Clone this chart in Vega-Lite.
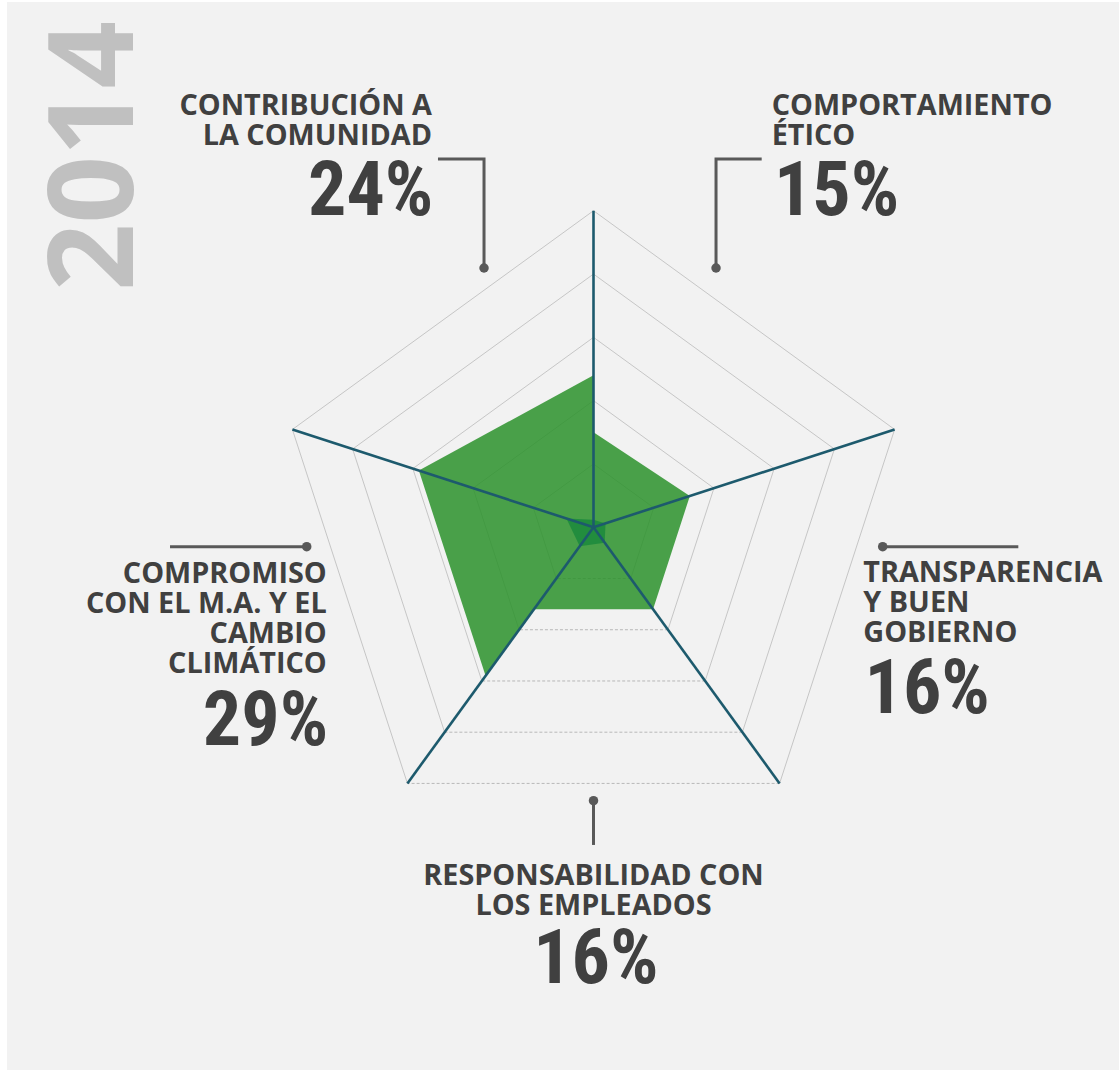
{
  "$schema": "https://vega.github.io/schema/vega-lite/v6.json",
  "width": 1119,
  "height": 1071,
  "autosize": {"type": "fit", "contains": "padding"},
  "padding": 0,
  "background": "#ffffff",
  "config": {"view": {"stroke": null}},
  "datasets": {
    "panel": [{"x": -92.62, "x2": 82.99, "y": 82.96, "y2": -85.71}],
    "grid": [
      {"L": 10, "e": 0}, {"L": 10, "e": 1}, {"L": 10, "e": 2}, {"L": 10, "e": 3}, {"L": 10, "e": 4},
      {"L": 20, "e": 0}, {"L": 20, "e": 1}, {"L": 20, "e": 2}, {"L": 20, "e": 3}, {"L": 20, "e": 4},
      {"L": 30, "e": 0}, {"L": 30, "e": 1}, {"L": 30, "e": 2}, {"L": 30, "e": 3}, {"L": 30, "e": 4},
      {"L": 40, "e": 0}, {"L": 40, "e": 1}, {"L": 40, "e": 2}, {"L": 40, "e": 3}, {"L": 40, "e": 4},
      {"L": 50, "e": 0}, {"L": 50, "e": 1}, {"L": 50, "e": 2}, {"L": 50, "e": 3}, {"L": 50, "e": 4}
    ],
    "radar": [
      {"o": 0, "axis": 0, "v": 15},
      {"o": 1, "axis": 1, "v": 16},
      {"o": 2, "axis": 2, "v": 16},
      {"o": 3, "axis": 3, "v": 16},
      {"o": 4, "axis": 3, "v": 29},
      {"o": 5, "axis": 4, "v": 29},
      {"o": 6, "axis": 0, "v": 24}
    ],
    "inner": [
      {"o": 0, "axis": 0, "v": 1.2},
      {"o": 1, "axis": 1, "v": 2},
      {"o": 2, "axis": 2, "v": 3},
      {"o": 3, "axis": 3, "v": 3.7},
      {"o": 4, "axis": 4, "v": 4.5}
    ],
    "spokes": [
      {"axis": 0, "v": 50}, {"axis": 1, "v": 50}, {"axis": 2, "v": 50}, {"axis": 3, "v": 50}, {"axis": 4, "v": 50}
    ],
    "cats": [
      {"name": "contribucion", "label": "CONTRIBUCIÓN A\nLA COMUNIDAD", "v": 24, "lx": -25.51, "ly": 65.11, "nx": -25.3, "ny": 49.32},
      {"name": "comportamiento", "label": "COMPORTAMIENTO\nÉTICO", "v": 15, "lx": 28.14, "ly": 65.11, "nx": 28.5, "ny": 49.32},
      {"name": "transparencia", "label": "TRANSPARENCIA\nY BUEN\nGOBIERNO", "v": 16, "lx": 42.61, "ly": -8.59, "nx": 42.8, "ny": -29.28},
      {"name": "responsabilidad", "label": "RESPONSABILIDAD CON\nLOS EMPLEADOS", "v": 16, "lx": 0.0, "ly": -56.49, "nx": 0.36, "ny": -72.02},
      {"name": "compromiso", "label": "COMPROMISO\nCON EL M.A. Y EL\nCAMBIO\nCLIMÁTICO", "v": 29, "lx": -42.13, "ly": -8.75, "nx": -41.9, "ny": -34.38}
    ],
    "leaders": [
      {"id": "contribucion", "o": 0, "x": -24.56, "y": 58.17},
      {"id": "contribucion", "o": 1, "x": -17.29, "y": 58.17},
      {"id": "contribucion", "o": 2, "x": -17.29, "y": 40.95},
      {"id": "comportamiento", "o": 0, "x": 26.56, "y": 58.17},
      {"id": "comportamiento", "o": 1, "x": 19.35, "y": 58.17},
      {"id": "comportamiento", "o": 2, "x": 19.35, "y": 40.95},
      {"id": "compromiso", "o": 0, "x": -66.88, "y": -3.06},
      {"id": "compromiso", "o": 1, "x": -45.29, "y": -3.06},
      {"id": "transparencia", "o": 0, "x": 67.09, "y": -3.06},
      {"id": "transparencia", "o": 1, "x": 45.67, "y": -3.06},
      {"id": "responsabilidad", "o": 0, "x": 0, "y": -50.17},
      {"id": "responsabilidad", "o": 1, "x": 0, "y": -43.18}
    ],
    "dots": [
      {"x": -17.29, "y": 40.95},
      {"x": 19.35, "y": 40.95},
      {"x": -45.29, "y": -3.06},
      {"x": 45.67, "y": -3.06},
      {"x": 0, "y": -43.18}
    ],
    "year": [{"text": "2014", "x": -72.73, "y": 58.64}]
  },
  "layer": [
    {
      "data": {"name": "panel"},
      "mark": {"type": "rect", "fill": "#f2f2f2"},
      "encoding": {
        "x": {"field": "x", "type": "quantitative", "axis": null, "scale": {"domain": [-93.73, 82.99], "nice": false, "zero": false}},
        "x2": {"field": "x2"},
        "y": {"field": "y", "type": "quantitative", "axis": null, "scale": {"domain": [-85.87, 83.28], "nice": false, "zero": false}},
        "y2": {"field": "y2"}
      }
    },
    {
      "data": {"name": "grid"},
      "transform": [
        {"filter": "datum.e != 2"},
        {"calculate": "datum.L * sin(datum.e * 2 * PI / 5)", "as": "x"},
        {"calculate": "datum.L * cos(datum.e * 2 * PI / 5)", "as": "y"},
        {"calculate": "datum.L * sin((datum.e + 1) * 2 * PI / 5)", "as": "x2"},
        {"calculate": "datum.L * cos((datum.e + 1) * 2 * PI / 5)", "as": "y2"}
      ],
      "mark": {"type": "rule", "color": "#c6c6c6", "strokeWidth": 1},
      "encoding": {
        "x": {"field": "x", "type": "quantitative", "axis": null, "scale": {"domain": [-93.73, 82.99], "nice": false, "zero": false}},
        "x2": {"field": "x2"},
        "y": {"field": "y", "type": "quantitative", "axis": null, "scale": {"domain": [-85.87, 83.28], "nice": false, "zero": false}},
        "y2": {"field": "y2"}
      }
    },
    {
      "data": {"name": "grid"},
      "transform": [
        {"filter": "datum.e == 2"},
        {"calculate": "datum.L * sin(datum.e * 2 * PI / 5)", "as": "x"},
        {"calculate": "datum.L * cos(datum.e * 2 * PI / 5)", "as": "y"},
        {"calculate": "datum.L * sin((datum.e + 1) * 2 * PI / 5)", "as": "x2"},
        {"calculate": "datum.L * cos((datum.e + 1) * 2 * PI / 5)", "as": "y2"}
      ],
      "mark": {"type": "rule", "color": "#b8b8b8", "strokeWidth": 1, "strokeDash": [3, 2]},
      "encoding": {
        "x": {"field": "x", "type": "quantitative", "axis": null, "scale": {"domain": [-93.73, 82.99], "nice": false, "zero": false}},
        "x2": {"field": "x2"},
        "y": {"field": "y", "type": "quantitative", "axis": null, "scale": {"domain": [-85.87, 83.28], "nice": false, "zero": false}},
        "y2": {"field": "y2"}
      }
    },
    {
      "data": {"name": "radar"},
      "transform": [
        {"calculate": "datum.v * sin(datum.axis * 2 * PI / 5)", "as": "x"},
        {"calculate": "datum.v * cos(datum.axis * 2 * PI / 5)", "as": "y"}
      ],
      "mark": {"type": "line", "interpolate": "linear-closed", "filled": true, "fill": "#2c922c", "fillOpacity": 0.85, "strokeWidth": 0},
      "encoding": {
        "x": {"field": "x", "type": "quantitative", "axis": null, "scale": {"domain": [-93.73, 82.99], "nice": false, "zero": false}},
        "y": {"field": "y", "type": "quantitative", "axis": null, "scale": {"domain": [-85.87, 83.28], "nice": false, "zero": false}},
        "order": {"field": "o", "type": "quantitative"}
      }
    },
    {
      "data": {"name": "inner"},
      "transform": [
        {"calculate": "datum.v * sin(datum.axis * 2 * PI / 5)", "as": "x"},
        {"calculate": "datum.v * cos(datum.axis * 2 * PI / 5)", "as": "y"}
      ],
      "mark": {"type": "line", "interpolate": "linear-closed", "filled": true, "fill": "#13853a", "fillOpacity": 0.7, "strokeWidth": 0},
      "encoding": {
        "x": {"field": "x", "type": "quantitative", "axis": null, "scale": {"domain": [-93.73, 82.99], "nice": false, "zero": false}},
        "y": {"field": "y", "type": "quantitative", "axis": null, "scale": {"domain": [-85.87, 83.28], "nice": false, "zero": false}},
        "order": {"field": "o", "type": "quantitative"}
      }
    },
    {
      "data": {"name": "spokes"},
      "transform": [
        {"calculate": "0", "as": "x"},
        {"calculate": "0", "as": "y"},
        {"calculate": "datum.v * sin(datum.axis * 2 * PI / 5)", "as": "x2"},
        {"calculate": "datum.v * cos(datum.axis * 2 * PI / 5)", "as": "y2"}
      ],
      "mark": {"type": "rule", "color": "#1d5a6d", "strokeWidth": 2.6},
      "encoding": {
        "x": {"field": "x", "type": "quantitative", "axis": null, "scale": {"domain": [-93.73, 82.99], "nice": false, "zero": false}},
        "x2": {"field": "x2"},
        "y": {"field": "y", "type": "quantitative", "axis": null, "scale": {"domain": [-85.87, 83.28], "nice": false, "zero": false}},
        "y2": {"field": "y2"}
      }
    },
    {
      "data": {"name": "leaders"},
      "mark": {"type": "line", "color": "#595959", "strokeWidth": 3, "interpolate": "linear"},
      "encoding": {
        "x": {"field": "x", "type": "quantitative", "axis": null, "scale": {"domain": [-93.73, 82.99], "nice": false, "zero": false}},
        "y": {"field": "y", "type": "quantitative", "axis": null, "scale": {"domain": [-85.87, 83.28], "nice": false, "zero": false}},
        "detail": {"field": "id", "type": "nominal"},
        "order": {"field": "o", "type": "quantitative"}
      }
    },
    {
      "data": {"name": "dots"},
      "mark": {"type": "circle", "color": "#595959", "size": 90, "opacity": 1},
      "encoding": {
        "x": {"field": "x", "type": "quantitative", "axis": null, "scale": {"domain": [-93.73, 82.99], "nice": false, "zero": false}},
        "y": {"field": "y", "type": "quantitative", "axis": null, "scale": {"domain": [-85.87, 83.28], "nice": false, "zero": false}}
      }
    },
    {
      "data": {"name": "cats"},
      "transform": [{"filter": {"field": "name", "oneOf": ["contribucion", "compromiso"]}}],
      "mark": {"type": "text", "align": "right", "baseline": "alphabetic", "font": "Open Sans", "fontWeight": "bold", "fontSize": 28.8, "lineHeight": 30, "lineBreak": "\n", "color": "#404040"},
      "encoding": {
        "x": {"field": "lx", "type": "quantitative", "axis": null, "scale": {"domain": [-93.73, 82.99], "nice": false, "zero": false}},
        "y": {"field": "ly", "type": "quantitative", "axis": null, "scale": {"domain": [-85.87, 83.28], "nice": false, "zero": false}},
        "text": {"field": "label", "type": "nominal"}
      }
    },
    {
      "data": {"name": "cats"},
      "transform": [{"filter": {"field": "name", "oneOf": ["comportamiento", "transparencia"]}}],
      "mark": {"type": "text", "align": "left", "baseline": "alphabetic", "font": "Open Sans", "fontWeight": "bold", "fontSize": 28.8, "lineHeight": 30, "lineBreak": "\n", "color": "#404040"},
      "encoding": {
        "x": {"field": "lx", "type": "quantitative", "axis": null, "scale": {"domain": [-93.73, 82.99], "nice": false, "zero": false}},
        "y": {"field": "ly", "type": "quantitative", "axis": null, "scale": {"domain": [-85.87, 83.28], "nice": false, "zero": false}},
        "text": {"field": "label", "type": "nominal"}
      }
    },
    {
      "data": {"name": "cats"},
      "transform": [{"filter": {"field": "name", "oneOf": ["responsabilidad"]}}],
      "mark": {"type": "text", "align": "center", "baseline": "alphabetic", "font": "Open Sans", "fontWeight": "bold", "fontSize": 28.8, "lineHeight": 30, "lineBreak": "\n", "color": "#404040"},
      "encoding": {
        "x": {"field": "lx", "type": "quantitative", "axis": null, "scale": {"domain": [-93.73, 82.99], "nice": false, "zero": false}},
        "y": {"field": "ly", "type": "quantitative", "axis": null, "scale": {"domain": [-85.87, 83.28], "nice": false, "zero": false}},
        "text": {"field": "label", "type": "nominal"}
      }
    },
    {
      "data": {"name": "cats"},
      "transform": [
        {"filter": {"field": "name", "oneOf": ["contribucion", "compromiso"]}},
        {"calculate": "datum.v + '%'", "as": "pct"}
      ],
      "mark": {"type": "text", "align": "right", "baseline": "alphabetic", "font": "Roboto Condensed, Liberation Sans Narrow, DejaVu Sans Condensed, sans-serif", "fontWeight": "bold", "fontSize": 76, "color": "#404040"},
      "encoding": {
        "x": {"field": "nx", "type": "quantitative", "axis": null, "scale": {"domain": [-93.73, 82.99], "nice": false, "zero": false}},
        "y": {"field": "ny", "type": "quantitative", "axis": null, "scale": {"domain": [-85.87, 83.28], "nice": false, "zero": false}},
        "text": {"field": "pct", "type": "nominal"}
      }
    },
    {
      "data": {"name": "cats"},
      "transform": [
        {"filter": {"field": "name", "oneOf": ["comportamiento", "transparencia"]}},
        {"calculate": "datum.v + '%'", "as": "pct"}
      ],
      "mark": {"type": "text", "align": "left", "baseline": "alphabetic", "font": "Roboto Condensed, Liberation Sans Narrow, DejaVu Sans Condensed, sans-serif", "fontWeight": "bold", "fontSize": 76, "color": "#404040"},
      "encoding": {
        "x": {"field": "nx", "type": "quantitative", "axis": null, "scale": {"domain": [-93.73, 82.99], "nice": false, "zero": false}},
        "y": {"field": "ny", "type": "quantitative", "axis": null, "scale": {"domain": [-85.87, 83.28], "nice": false, "zero": false}},
        "text": {"field": "pct", "type": "nominal"}
      }
    },
    {
      "data": {"name": "cats"},
      "transform": [
        {"filter": {"field": "name", "oneOf": ["responsabilidad"]}},
        {"calculate": "datum.v + '%'", "as": "pct"}
      ],
      "mark": {"type": "text", "align": "center", "baseline": "alphabetic", "font": "Roboto Condensed, Liberation Sans Narrow, DejaVu Sans Condensed, sans-serif", "fontWeight": "bold", "fontSize": 76, "color": "#404040"},
      "encoding": {
        "x": {"field": "nx", "type": "quantitative", "axis": null, "scale": {"domain": [-93.73, 82.99], "nice": false, "zero": false}},
        "y": {"field": "ny", "type": "quantitative", "axis": null, "scale": {"domain": [-85.87, 83.28], "nice": false, "zero": false}},
        "text": {"field": "pct", "type": "nominal"}
      }
    },
    {
      "data": {"name": "year"},
      "mark": {"type": "text", "align": "center", "baseline": "alphabetic", "angle": 270, "font": "Open Sans", "fontWeight": "bold", "fontSize": 118, "color": "#c0c0c0"},
      "encoding": {
        "x": {"field": "x", "type": "quantitative", "axis": null, "scale": {"domain": [-93.73, 82.99], "nice": false, "zero": false}},
        "y": {"field": "y", "type": "quantitative", "axis": null, "scale": {"domain": [-85.87, 83.28], "nice": false, "zero": false}},
        "text": {"field": "text", "type": "nominal"}
      }
    }
  ]
}
